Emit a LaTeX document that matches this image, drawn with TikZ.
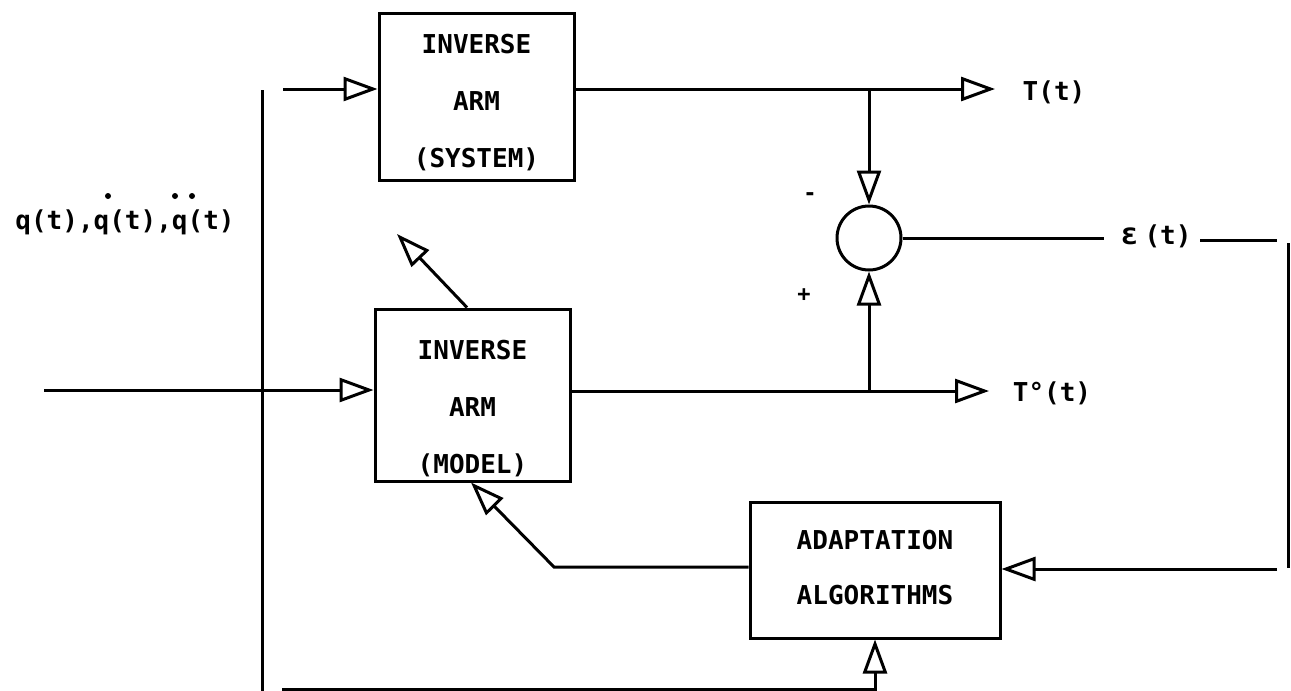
\documentclass[tikz,border=0pt]{standalone}
\usepackage{fontspec}
\setmonofont{DejaVu Sans Mono}
\usetikzlibrary{arrows.meta}
\begin{document}
\begin{tikzpicture}[x=1pt,y=-1pt,
  ln/.style={line width=3pt},
  arr/.style={ln,-{Triangle[open,length=34pt,width=24pt,line width=3pt]}},
  blk/.style={draw,line width=3pt,inner sep=0pt},
  lbl/.style={font=\ttfamily\bfseries\fontsize{26}{57}\selectfont,inner sep=0pt,align=center},
  sgn/.style={font=\ttfamily\bfseries\fontsize{22}{24}\selectfont,inner sep=0pt},
  dotmark/.style={fill=black,circle,inner sep=0pt,minimum size=6pt}]
\useasboundingbox[fill=white] (0,0) rectangle (1291,691);

% blocks
\node[blk,minimum width=195pt,minimum height=167pt] (sys) at (476.5,96.5) {};
\node[lbl] (systext) at (476.5,103) {INVERSE\\ARM\\(SYSTEM)};
\node[blk,minimum width=195pt,minimum height=172pt] (mod) at (472.5,395) {};
\node[lbl] (modtext) at (472.5,409) {INVERSE\\ARM\\(MODEL)};
\node[blk,minimum width=250pt,minimum height=136pt] (ad) at (875,570) {};
\node[lbl,font=\ttfamily\bfseries\fontsize{26}{55}\selectfont] (adtext) at (875,567.5) {ADAPTATION\\ALGORITHMS};
\node[draw,circle,ln,minimum size=64pt,inner sep=0pt] (sum) at (869,238) {};

% labels
\node[lbl] (ql) at (125,222) {q(t),q(t),q(t)};
\node[dotmark] (d1) at (108,196) {};
\node[dotmark] (d2) at (175,196) {};
\node[dotmark] (d3) at (192,196) {};
\node[lbl] (Tl) at (1054,92) {T(t)};
\node[lbl] (T0l) at (1052,393) {T°(t)};
\node[lbl] (epsl) at (1156,236) {{\fontsize{30}{30}\selectfont ε}\hspace{6pt}(t)};
\node[sgn] (minus) at (810,197) {-};
\node[sgn] (plus) at (804,295) {+};

% coordinates
\coordinate (sysin) at (283,89);
\coordinate (tout) at (995,89);
\coordinate (b1) at (869,89);
\coordinate (min) at (44,390);
\coordinate (mout) at (989,391);
\coordinate (b2) at (869,391);
\coordinate (mup) at (397,234);
\coordinate (e1) at (1104,238);
\coordinate (e2) at (1200,240);
\coordinate (e3) at (1277,240);
\coordinate (r1) at (1288,243);
\coordinate (r2) at (1288,568);
\coordinate (r3) at (1277,569);
\coordinate (k) at (554,567);
\coordinate (bl) at (282,689);
\coordinate (br) at (875,689);
\coordinate (v1) at (262,90);
\coordinate (v2) at (262,691);

% connectors
\draw[ln] (v1) -- (v2);
\draw[arr] (sysin) -- (sys.west |- sysin);
\draw[arr] (sys.east |- tout) -- (tout);
\draw[arr] (b1) -- (sum.north);
\draw[arr] (min) -- (mod.west |- min);
\draw[arr] (mod.east |- mout) -- (mout);
\draw[arr] (b2) -- (sum.south);
\draw[arr] ([xshift=-5.5pt]mod.north) -- (mup);
\draw[ln] (sum.east) -- (e1);
\draw[ln] (e2) -- (e3);
\draw[ln] (r1) -- (r2);
\draw[arr] (r3) -- (ad.east |- r3);
\draw[arr] (ad.west |- k) -- (k) -- ([xshift=-1.5pt]mod.south);
\draw[arr] (bl) -- (br) -- (ad.south);
\end{tikzpicture}
\end{document}
